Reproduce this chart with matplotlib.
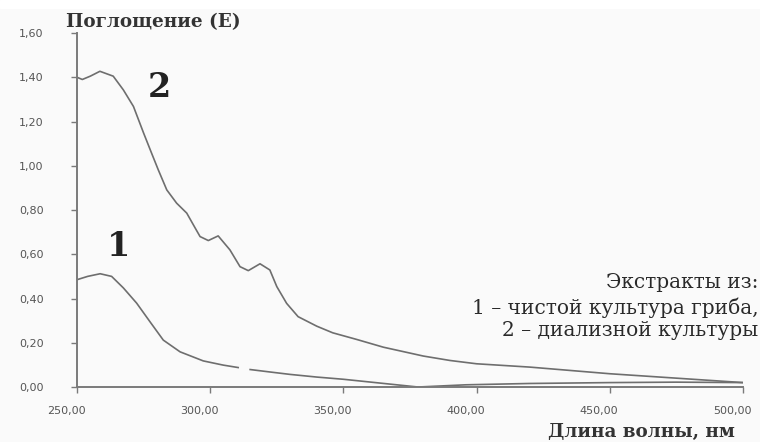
import numpy as np
import matplotlib
matplotlib.use("Agg")
import matplotlib.pyplot as plt
from matplotlib.transforms import ScaledTranslation
from matplotlib.patches import Rectangle

# wavelength (nm) and absorbance
wl2 = [250, 252, 255, 258.6, 263.6, 267.4, 271.2, 275, 278, 280.5, 283.7,
       287.4, 291.2, 294.3, 296.2, 299.3, 303, 307.4, 311.2, 314.3, 318.7,
       322.4, 325, 328.7, 333, 340, 346, 355, 365, 380, 390, 400, 420, 450,
       475, 500]
ab2 = [1.40, 1.39, 1.405, 1.427, 1.405, 1.343, 1.268, 1.148, 1.057, 0.982,
       0.891, 0.831, 0.786, 0.72, 0.68, 0.662, 0.683, 0.62, 0.544, 0.526,
       0.557, 0.529, 0.454, 0.378, 0.318, 0.275, 0.245, 0.215, 0.18, 0.14,
       0.12, 0.105, 0.09, 0.06, 0.04, 0.02]

# nan = small break visible in curve 1
wl1 = [250, 254, 258.7, 263, 267.4, 272.4, 277.4, 282.4, 288.7, 297.4, 304.9,
       310.5, 312.5, 315, 322.4, 330, 340, 350, 362, 378, 396, 420, 450, 475,
       500]
ab1 = [0.485, 0.50, 0.512, 0.50, 0.448, 0.379, 0.295, 0.212, 0.159, 0.118,
       0.099, 0.088, np.nan, 0.079, 0.068, 0.057, 0.045, 0.035, 0.02, 0.0,
       0.01, 0.016, 0.02, 0.022, 0.02]

xticks = [250, 300, 350, 400, 450, 500]
yticks = [0.0, 0.2, 0.4, 0.6, 0.8, 1.0, 1.2, 1.4, 1.6]

BG, AX, LN = "#fafafa", "#7a7a7a", "#6e6e6e"
SERIF = "DejaVu Serif"

fig = plt.figure(figsize=(7.6, 4.42), dpi=100, facecolor=BG)
fig.patches.append(Rectangle((0, 1 - 8 / 442), 1, 8 / 442, color="white",
                             transform=fig.transFigure, zorder=-1))
ax = fig.add_axes([0.1013, 0.1244, 0.8763, 0.8009])
ax.set_facecolor(BG)

ax.plot(wl2, ab2, color=LN, lw=1.2)
ax.plot(wl1, ab1, color=LN, lw=1.2)

ax.set_xlim(250, 500)
ax.set_ylim(0, 1.6)
ax.set_xticks(xticks)
ax.set_xticklabels([f"{v:.2f}".replace(".", ",") for v in xticks])
ax.set_yticks(yticks)
ax.set_yticklabels([f"{v:.2f}".replace(".", ",") for v in yticks])
for s in ["top", "right"]:
    ax.spines[s].set_visible(False)
for s in ["left", "bottom"]:
    ax.spines[s].set_color(AX)
    ax.spines[s].set_linewidth(1.4)
ax.tick_params(colors=AX, labelcolor="#555555", labelsize=8, length=4,
               width=1.0)
ax.tick_params(axis="x", pad=10)
ax.tick_params(axis="y", pad=20)
shift = ScaledTranslation(-11 / 100, 0, fig.dpi_scale_trans)
for lab in ax.get_xticklabels():
    lab.set_transform(lab.get_transform() + shift)

fig.text(0.087, 0.950, "Поглощение (E)", family=SERIF, fontweight="bold",
         fontsize=13.2, color="#333333", ha="left", va="center")
fig.text(0.844, 0.023, "Длина волны, нм", family=SERIF, fontweight="bold",
         fontsize=13.2, color="#333333", ha="center", va="center")

ax.text(276.6, 1.312, "2", family=SERIF, fontweight="bold", fontsize=24,
        color="#222222")
ax.text(261.1, 0.59, "1", family=SERIF, fontweight="bold", fontsize=24,
        color="#222222")

legend_lines = ["Экстракты из:", "1 – чистой культура гриба,",
                "2 – диализной культуры"]
for txt, yy in zip(legend_lines, [0.360, 0.304, 0.253]):
    fig.text(0.998, yy, txt, family=SERIF, fontsize=14.5, color="#2a2a2a",
             ha="right", va="center")

fig.savefig("out.png", dpi=100, facecolor=BG)
